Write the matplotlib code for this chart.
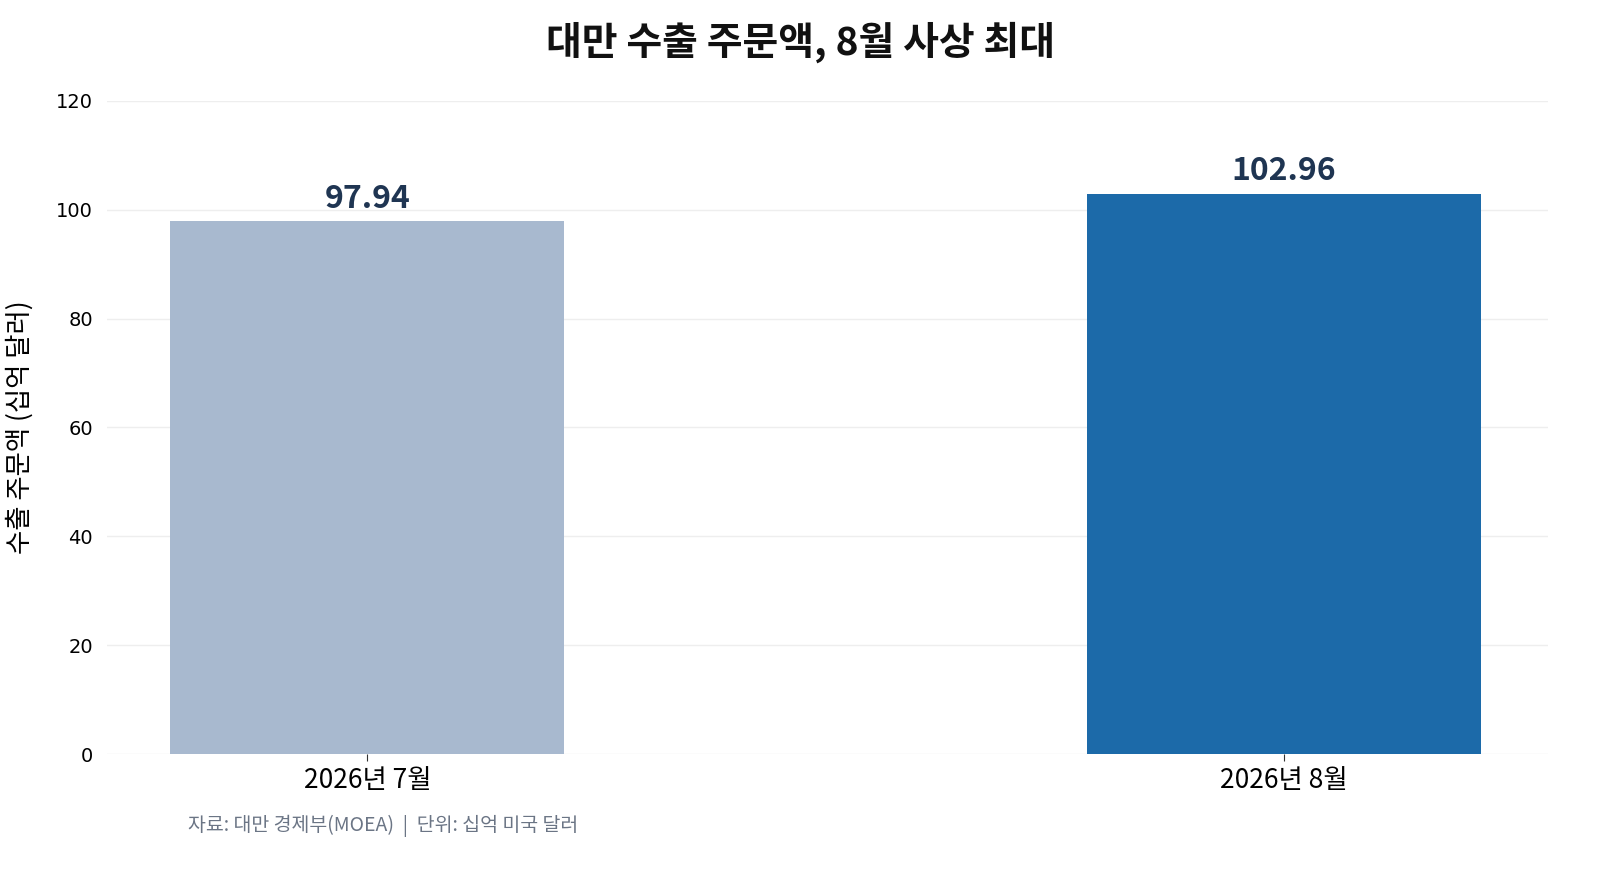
import matplotlib
matplotlib.use("Agg")
import matplotlib.pyplot as plt

plt.rcParams['font.family'] = ['Noto Sans CJK KR', 'DejaVu Sans']

categories = ["2026년 7월", "2026년 8월"]
values = [97.94, 102.96]
colors = ["#a8b9cf", "#1c6aa9"]
yticks = [0, 20, 40, 60, 80, 100, 120]

fig = plt.figure(figsize=(16, 8.72), dpi=100)
ax = fig.add_axes([107/1600, 1-754/872, (1548-107)/1600, (754-101)/872])
x = range(len(categories))
ax.bar(x, values, width=0.43, color=colors, zorder=2)
for xi, v in zip(x, values):
    ax.text(xi, v + 1.2, f"{v:.2f}", ha='center', va='bottom', fontsize=23,
            fontweight='bold', color='#1f3552')
ax.set_xlim(-0.284, 1.288)
ax.set_ylim(0, 120)
ax.set_yticks(yticks)
ax.set_yticklabels([str(t) for t in yticks], family='DejaVu Sans', fontsize=14)
ax.set_xticks(list(x))
ax.set_xticklabels(categories, fontsize=19)
ax.tick_params(axis='y', length=0, pad=10)
ax.tick_params(axis='x', length=5, color='#333333', pad=4)
ax.grid(axis='y', color='#eeeeee', linewidth=1, zorder=0)
for s in ax.spines.values():
    s.set_visible(False)
ax.set_ylabel("수출 주문액 (십억 달러)", fontsize=19, labelpad=16)
fig.text(0.5, 1-42/872, "대만 수출 주문액, 8월 사상 최대", ha='center', va='center',
         fontsize=28, fontweight='bold', color='#111111')
fig.text(188/1600, 1-826/872, "자료: 대만 경제부(MOEA)  |  단위: 십억 미국 달러",
         ha='left', va='center', fontsize=14, color='#6b7585')
fig.savefig("out.png", dpi=100)
